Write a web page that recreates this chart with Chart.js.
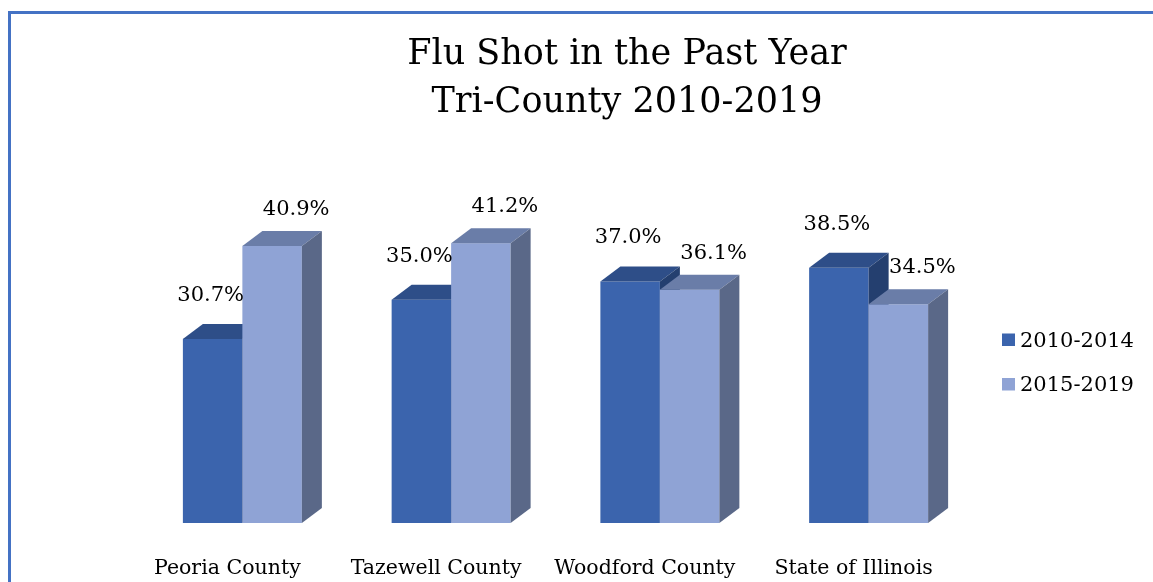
<!DOCTYPE html>
<html>
    <head>
        <script src="https://cdn.jsdelivr.net/npm/chart.js@4/dist/chart.umd.min.js"></script>
        <meta charset="utf-8">
        <title>Flu Shot in the Past Year</title>
        <style>
            body {
                margin: 0;
                background: #fff;
            }
            #wrap {
                position: relative;
                width: 1153px;
                height: 582px;
            }
            #frame {
                position: absolute;
                left: 8px;
                top: 11px;
                right: 0;
                bottom: 0;
                border-left: 3px solid #4472c4;
                border-top: 3px solid #4472c4;
            }
            canvas {
                position: absolute;
                left: 0;
                top: 0;
            }
        </style>
    </head>
    <body>
        <div id="wrap">
            <div id="frame"></div>
            <canvas id="chart" width="1153" height="582"></canvas>
        </div>
        <script>
            const categories = ["Peoria County", "Tazewell County", "Woodford County", "State of Illinois"];
            const seriesNames = ["2010-2014", "2015-2019"];
            const values2010 = [30.7, 35.0, 37.0, 38.5];
            const values2015 = [40.9, 41.2, 36.1, 34.5];
            const titleLines = ["Flu Shot in the Past Year", "Tri-County 2010-2019"];

            const SERIF = "'DejaVu Serif', 'Liberation Serif', serif";
            const DEPTH_X = 20, DEPTH_Y = 15;
            // front, top, side shades for each series, plus label offset
            const shades = [
                {front: "#3b64ad", top: "#2e4e88", side: "#243f6f", dx: -2, dy: -38},
                {front: "#8fa3d5", top: "#6a7da8", side: "#5a6888", dx: 24, dy: -31}
            ];

            const bars3d = {
                id: "bars3d",
                afterDatasetsDraw(chart) {
                    const ctx = chart.ctx;
                    const floor = chart.chartArea.bottom;
                    chart.data.datasets.forEach((ds, di) => {
                        const s = shades[di];
                        chart.getDatasetMeta(di).data.forEach(bar => {
                            const l = bar.x - bar.width / 2, r = bar.x + bar.width / 2;
                            const t = bar.y, b = Math.min(bar.base, floor);
                            ctx.save();
                            ctx.fillStyle = s.front;
                            ctx.fillRect(l, t, r - l, b - t);
                            // top face
                            ctx.fillStyle = s.top;
                            ctx.beginPath();
                            ctx.moveTo(l, t);
                            ctx.lineTo(l + DEPTH_X, t - DEPTH_Y);
                            ctx.lineTo(r + DEPTH_X, t - DEPTH_Y);
                            ctx.lineTo(r, t);
                            ctx.closePath();
                            ctx.fill();
                            // side face
                            ctx.fillStyle = s.side;
                            ctx.beginPath();
                            ctx.moveTo(r, t);
                            ctx.lineTo(r + DEPTH_X, t - DEPTH_Y);
                            ctx.lineTo(r + DEPTH_X, b - DEPTH_Y);
                            ctx.lineTo(r, b);
                            ctx.closePath();
                            ctx.fill();
                            ctx.restore();
                        });
                    });
                    // value labels
                    ctx.save();
                    ctx.fillStyle = "#000";
                    ctx.font = "21px " + SERIF;
                    ctx.textAlign = "center";
                    ctx.textBaseline = "alphabetic";
                    chart.data.datasets.forEach((ds, di) => {
                        const s = shades[di];
                        chart.getDatasetMeta(di).data.forEach((bar, i) => {
                            ctx.fillText(ds.data[i].toFixed(1) + "%", bar.x + s.dx, bar.y + s.dy);
                        });
                    });
                    ctx.restore();
                },
                afterDraw(chart) {
                    const ctx = chart.ctx;
                    const xs = chart.scales.x;
                    ctx.save();
                    ctx.fillStyle = "#000";
                    ctx.textBaseline = "alphabetic";
                    // title
                    ctx.font = "35px " + SERIF;
                    ctx.textAlign = "center";
                    ctx.fillText(titleLines[0], 627, 64);
                    ctx.fillText(titleLines[1], 627, 112);
                    // category labels
                    ctx.font = "20.5px " + SERIF;
                    chart.data.labels.forEach((lab, i) => {
                        ctx.fillText(lab, xs.getPixelForValue(i) - 15, 574);
                    });
                    // legend
                    ctx.font = "21px " + SERIF;
                    ctx.textAlign = "left";
                    chart.data.datasets.forEach((ds, di) => {
                        const y = 339.5 + di * 44.5;
                        ctx.fillStyle = shades[di].front;
                        ctx.fillRect(1002, y - 6, 13, 12.5);
                        ctx.fillStyle = "#000";
                        ctx.fillText(ds.label, 1020, y + 7.3);
                    });
                    ctx.restore();
                }
            };

            new Chart(document.getElementById("chart"), {
                type: "bar",
                data: {
                    labels: categories,
                    datasets: [
                        {label: seriesNames[0], data: values2010, backgroundColor: "rgba(0,0,0,0)"},
                        {label: seriesNames[1], data: values2015, backgroundColor: "rgba(0,0,0,0)"}
                    ]
                },
                options: {
                    responsive: false,
                    animation: false,
                    datasets: {
                        bar: {barPercentage: 1, categoryPercentage: 0.57}
                    },
                    layout: {
                        padding: {left: 138, right: 180, top: 204, bottom: 59}
                    },
                    scales: {
                        x: {display: false},
                        y: {display: false, min: 10.5, max: 45.5}
                    },
                    plugins: {
                        legend: {display: false},
                        tooltip: {enabled: false}
                    }
                },
                plugins: [bars3d]
            });
        </script>
    </body>
</html>
